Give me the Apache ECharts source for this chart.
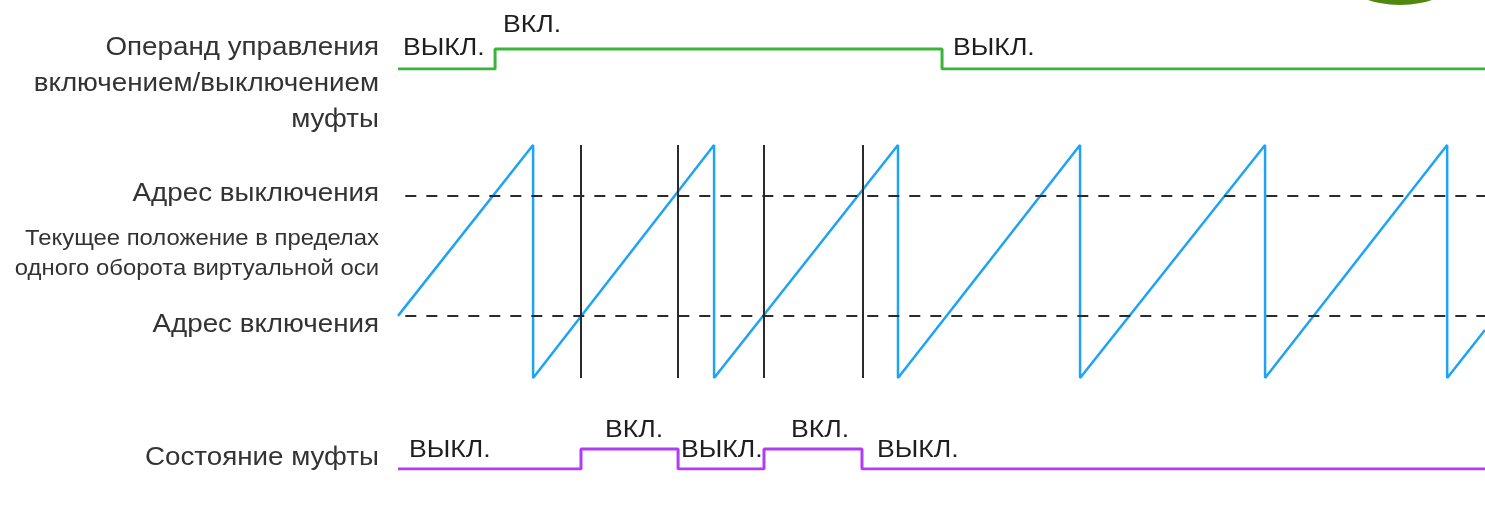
<!DOCTYPE html>
<html>
<head>
<meta charset="utf-8">
<script src="https://cdn.jsdelivr.net/npm/echarts@6/dist/echarts.min.js"></script>
<style>
  html, body { margin: 0; padding: 0; background: #ffffff; }
  #chart { width: 1485px; height: 525px; }
</style>
</head>
<body>
<div id="chart"></div>
<script>
// ---- Data (time in revolutions of the virtual axis) ----
const timeMax = 5.946;

// Clutch ON/OFF command operand (0 = ВЫКЛ., 1 = ВКЛ.)
const cmdTimes  = [0, 0.531, 2.976, 5.946];
const cmdLevels = [0, 1, 0, 0];

// Current position within one revolution of the virtual axis (degrees)
const sawTimes = [0, 0.739, 0.739, 1.729, 1.729, 2.735, 2.735, 3.731, 3.731, 4.743, 4.743, 5.739, 5.739, 5.946];
const sawPos   = [96, 360, 0, 360, 0, 360, 0, 360, 0, 360, 0, 360, 0, 74];

// Addresses
const onAddress  = 96;
const offAddress = 282;

// Switching moments (vertical markers)
const switchTimes = [1.001, 1.532, 2.002, 2.538];

// Clutch state (0 = ВЫКЛ., 1 = ВКЛ.)
const stateTimes  = [0, 1.001, 1.532, 2.002, 2.538, 5.946];
const stateLevels = [0, 1, 0, 1, 0, 0];

// State text labels
const cmdLabelText   = ['ВЫКЛ.', 'ВКЛ.', 'ВЫКЛ.'];
const cmdLabelTimes  = [0.027, 0.574, 3.036];
const cmdLabelLevels = [1.02, 2.17, 1.02];

const stLabelText   = ['ВЫКЛ.', 'ВКЛ.', 'ВЫКЛ.', 'ВКЛ.', 'ВЫКЛ.'];
const stLabelTimes  = [0.06, 1.132, 1.548, 2.15, 2.62];
const stLabelLevels = [0.93, 1.93, 0.93, 1.93, 0.93];

// Row titles
const rowTitles = [
  'Операнд управления', 'включением/выключением', 'муфты',
  'Адрес выключения',
  'Текущее положение в пределах', 'одного оборота виртуальной оси',
  'Адрес включения',
  'Состояние муфты'
];

// ---- Styling ----
const FONT = '"Liberation Sans", Arial, Helvetica, sans-serif';
const SX = 1.11;
const GREEN = '#3ab53a';
const BLUE = '#1ea3f5';
const PURPLE = '#b03cf6';
const DARK = '#2a2a2a';
const TEXT = '#333333';

const zip = (a, b) => a.map((v, i) => [v, b[i]]);

function textSeries(gridIdx, times, levels, texts) {
  return {
    type: 'custom',
    xAxisIndex: gridIdx, yAxisIndex: gridIdx,
    clip: false, silent: true, z: 5,
    data: zip(times, levels),
    encode: { x: 0, y: 1 },
    renderItem: function (params, api) {
      const p = api.coord([api.value(0), api.value(1)]);
      return {
        type: 'text', x: p[0], y: p[1], scaleX: SX,
        style: {
          text: texts[params.dataIndex],
          fontSize: 24, fontFamily: FONT, fill: '#1e1e1e',
          textAlign: 'left', textVerticalAlign: 'middle',
          align: 'left', verticalAlign: 'middle'
        }
      };
    }
  };
}

const titleY = [48, 84, 120, 194, 239, 269, 325, 458];
const titleSize = [25, 25, 25, 25, 21.5, 21.5, 25, 25];

const graphics = rowTitles.map((t, i) => ({
  type: 'text', x: 379, y: titleY[i], scaleX: SX, silent: true,
  style: {
    text: t, fontSize: titleSize[i], fontFamily: FONT, fill: TEXT,
    textAlign: 'right', textVerticalAlign: 'middle',
    align: 'right', verticalAlign: 'middle'
  }
}));
graphics.push({
  type: 'circle', shape: { cx: 1400, cy: -100, r: 105 }, silent: true,
  style: { fill: '#52870f' }
});

const chart = echarts.init(document.getElementById('chart'), null, { renderer: 'canvas' });

const xAx = (g) => ({ type: 'value', gridIndex: g, min: 0, max: timeMax, show: false });

chart.setOption({
  animation: false,
  backgroundColor: '#ffffff',
  grid: [
    { left: 398, right: 0, top: 9, height: 60 },
    { left: 398, right: 0, top: 145, height: 233 },
    { left: 398, right: 0, top: 409, height: 60 }
  ],
  xAxis: [xAx(0), xAx(1), xAx(2)],
  yAxis: [
    { type: 'value', gridIndex: 0, min: 0, max: 3, show: false },
    { type: 'value', gridIndex: 1, min: 0, max: 360, show: false },
    { type: 'value', gridIndex: 2, min: 0, max: 3, show: false }
  ],
  graphic: graphics,
  series: [
    {
      type: 'line', xAxisIndex: 0, yAxisIndex: 0, step: 'end',
      showSymbol: false, symbol: 'none', silent: true,
      data: zip(cmdTimes, cmdLevels),
      lineStyle: { color: GREEN, width: 3 }
    },
    {
      type: 'line', xAxisIndex: 1, yAxisIndex: 1,
      showSymbol: false, symbol: 'none', silent: true, z: 3,
      data: zip(sawTimes, sawPos),
      lineStyle: { color: BLUE, width: 2.5 },
      markLine: {
        silent: true, symbol: 'none', animation: false,
        label: { show: false },
        data: switchTimes.map(t => ({ xAxis: t, lineStyle: { color: DARK, width: 2, type: 'solid' } }))
          .concat([
            [{ coord: [0.04, offAddress], lineStyle: { color: DARK, width: 2, type: [11, 10] } }, { coord: [timeMax, offAddress] }],
            [{ coord: [0.04, onAddress], lineStyle: { color: DARK, width: 2, type: [11, 10] } }, { coord: [timeMax, onAddress] }]
          ])
      }
    },
    {
      type: 'line', xAxisIndex: 2, yAxisIndex: 2, step: 'end',
      showSymbol: false, symbol: 'none', silent: true,
      data: zip(stateTimes, stateLevels),
      lineStyle: { color: PURPLE, width: 3 }
    },
    textSeries(0, cmdLabelTimes, cmdLabelLevels, cmdLabelText),
    textSeries(2, stLabelTimes, stLabelLevels, stLabelText)
  ]
});
</script>
</body>
</html>
